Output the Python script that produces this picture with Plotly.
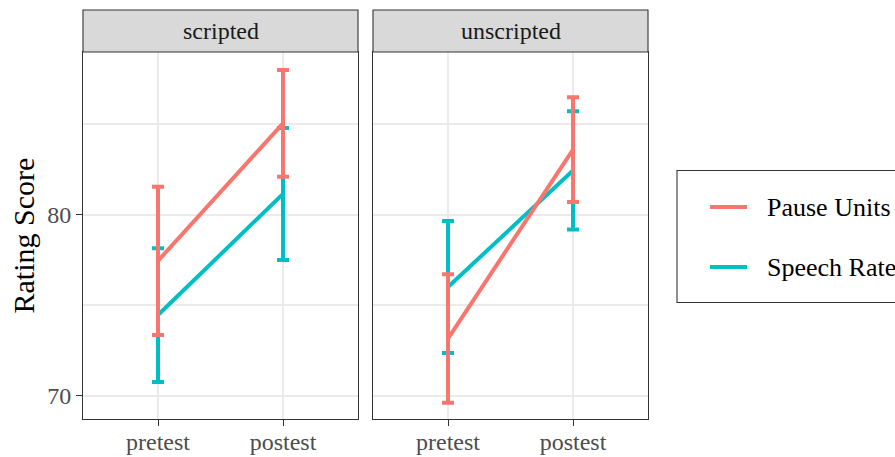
import plotly.graph_objects as go

# ---- data ----
conditions = ["scripted", "unscripted"]
tests = ["pretest", "postest"]
series_names = ["Pause Units", "Speech Rate"]
series_colors = ["#F8766D", "#00BFC4"]

pause_mean = {"scripted": [77.45, 85.05], "unscripted": [73.15, 83.6]}
pause_err = {"scripted": [4.1, 2.95], "unscripted": [3.55, 2.9]}
speech_mean = {"scripted": [74.45, 81.15], "unscripted": [76.0, 82.45]}
speech_err = {"scripted": [3.7, 3.65], "unscripted": [3.65, 3.27]}

y_ticks = [70, 80]

# ---- geometry ----
W, H = 895, 457
L, R, T, B = 83, 648, 52, 419
pw = R - L
ph = B - T
gap = 15
panel_w = (pw - gap) / 2
domains = [[0, panel_w / pw], [(panel_w + gap) / pw, 1]]

SERIF = "Liberation Serif, Times New Roman, serif"

fig = go.Figure()

series = [
    (series_names[1], series_colors[1], speech_mean, speech_err),
    (series_names[0], series_colors[0], pause_mean, pause_err),
]

for i, cond in enumerate(conditions):
    xa = "x" if i == 0 else "x2"
    ya = "y" if i == 0 else "y2"
    for name, color, means, errs in series:
        fig.add_trace(go.Scatter(
            x=tests, y=means[cond], mode="lines", name=name,
            line=dict(color=color, width=4),
            error_y=dict(type="data", array=errs[cond], visible=True,
                         color=color, thickness=4, width=6),
            xaxis=xa, yaxis=ya, showlegend=False, hoverinfo="skip",
        ))

axis_common = dict(
    showline=True, mirror=True, linecolor="#333333", linewidth=1.1,
    showgrid=True, gridcolor="#EBEBEB", gridwidth=2,
    ticklen=6, tickcolor="#333333", tickwidth=1.1,
    tickfont=dict(family=SERIF, size=24, color="#4D4D4D"),
    zeroline=False, automargin=False,
)

yrange = [68.7, 89.0]
for i in range(2):
    sfx = "" if i == 0 else str(i + 1)
    fig.update_layout(**{
        "xaxis" + sfx: dict(
            domain=domains[i], type="category", ticks="outside",
            ticklabelstandoff=-5,
            range=[-0.6, 1.6], categoryorder="array", categoryarray=tests,
            anchor="y" + sfx, **axis_common),
        "yaxis" + sfx: dict(
            domain=[0, 1], range=yrange, tickvals=y_ticks,
            showticklabels=(i == 0), ticks="outside" if i == 0 else "",
            minor=dict(dtick=5, tick0=70, showgrid=True,
                       gridcolor="#EBEBEB", gridwidth=1.5),
            anchor="x" + sfx, **axis_common),
    })

shapes = []
annotations = []
strip_h = (T - 10) / ph
for i, cond in enumerate(conditions):
    shapes.append(dict(type="rect", xref="paper", yref="paper",
                       x0=domains[i][0], x1=domains[i][1], y0=1, y1=1 + strip_h,
                       fillcolor="#D9D9D9", line=dict(color="#333333", width=1.1),
                       layer="above"))
    annotations.append(dict(text=cond, xref="paper", yref="paper",
                            x=(domains[i][0] + domains[i][1]) / 2,
                            y=1 + strip_h / 2, showarrow=False,
                            xanchor="center", yanchor="middle",
                            font=dict(family=SERIF, size=24, color="#1A1A1A")))

# y axis title
annotations.append(dict(text="Rating Score", xref="paper", yref="paper",
                        x=(23 - L) / pw, y=0.5, textangle=-90, showarrow=False,
                        xanchor="center", yanchor="middle",
                        font=dict(family=SERIF, size=30, color="#000000")))

# legend (manual, ggplot style)
def px_x(p):
    return (p - L) / pw

def px_y(p):
    return (B - p) / ph

shapes.append(dict(type="rect", xref="paper", yref="paper",
                   x0=px_x(677), x1=px_x(905), y0=px_y(302.5), y1=px_y(170.5),
                   fillcolor="white", line=dict(color="#333333", width=1.1)))
for k, (nm, col) in enumerate(zip(series_names, series_colors)):
    yy = [207, 267][k]
    shapes.append(dict(type="line", xref="paper", yref="paper",
                       x0=px_x(710), x1=px_x(747), y0=px_y(yy), y1=px_y(yy),
                       line=dict(color=col, width=4)))
    annotations.append(dict(text=nm, xref="paper", yref="paper",
                            x=px_x(765), y=px_y(yy), showarrow=False,
                            xanchor="left", yanchor="middle",
                            font=dict(family=SERIF, size=26, color="#000000")))

fig.update_layout(
    width=W, height=H,
    margin=dict(l=L, r=W - R, t=T, b=H - B, pad=0, autoexpand=False),
    paper_bgcolor="white", plot_bgcolor="white",
    shapes=shapes, annotations=annotations,
    showlegend=False,
)

fig.write_html("out.html", config={"displayModeBar": False})
